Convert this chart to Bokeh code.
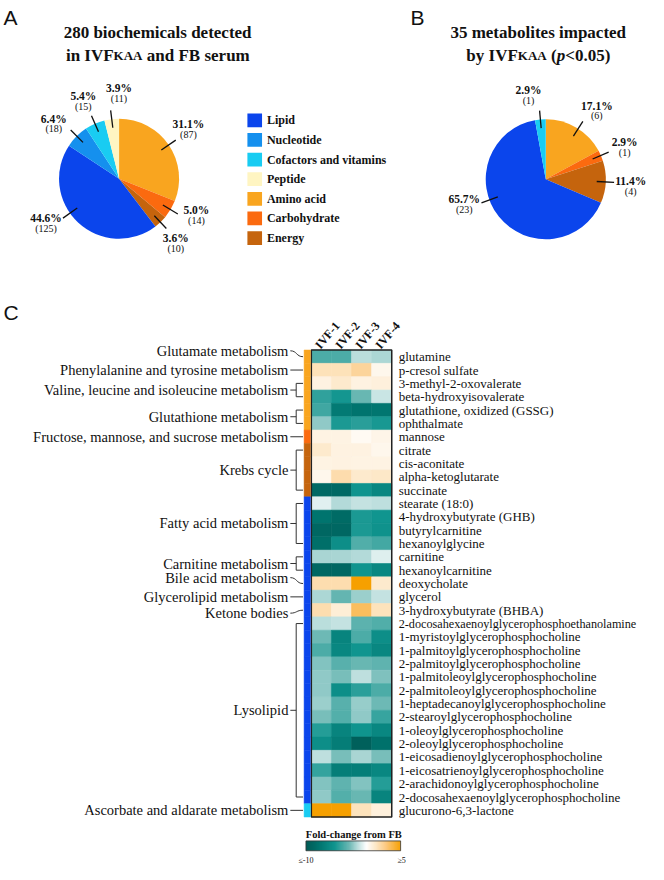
import math
import numpy as np
from bokeh.plotting import figure
from bokeh.models import Range1d, LinearColorMapper, ColumnDataSource
from bokeh.core.properties import value
from bokeh.embed import file_html
from bokeh.resources import INLINE

# ------------------------------------------------------------------ data
classes = ["Lipid", "Nucleotide", "Cofactors and vitamins", "Peptide",
           "Amino acid", "Carbohydrate", "Energy"]
class_colors = ["#0b45ec", "#1590ee", "#19ccf2", "#fff5c2",
                "#f9a51f", "#fb6a0f", "#c5640d"]
counts_detected = [125, 18, 15, 11, 87, 14, 10]
counts_impacted = [23, 0, 1, 0, 6, 1, 4]

samples = ["IVF-1", "IVF-2", "IVF-3", "IVF-4"]
metabolites = [
    "glutamine", "p-cresol sulfate", "3-methyl-2-oxovalerate",
    "beta-hydroxyisovalerate", "glutathione, oxidized (GSSG)", "ophthalmate",
    "mannose", "citrate", "cis-aconitate", "alpha-ketoglutarate", "succinate",
    "stearate (18:0)", "4-hydroxybutyrate (GHB)", "butyrylcarnitine",
    "hexanoylglycine", "carnitine", "hexanoylcarnitine", "deoxycholate",
    "glycerol", "3-hydroxybutyrate (BHBA)",
    "2-docosahexaenoylglycerophosphoethanolamine",
    "1-myristoylglycerophosphocholine", "1-palmitoylglycerophosphocholine",
    "2-palmitoylglycerophosphocholine", "1-palmitoleoylglycerophosphocholine",
    "2-palmitoleoylglycerophosphocholine",
    "1-heptadecanoylglycerophosphocholine", "2-stearoylglycerophosphocholine",
    "1-oleoylglycerophosphocholine", "2-oleoylglycerophosphocholine",
    "1-eicosadienoylglycerophosphocholine",
    "1-eicosatrienoylglycerophosphocholine",
    "2-arachidonoylglycerophosphocholine",
    "2-docosahexaenoylglycerophosphocholine", "glucurono-6,3-lactone"]
metabolite_class = (["Amino acid"] * 6 + ["Carbohydrate"] + ["Energy"] * 4 +
                    ["Lipid"] * 23 + ["Cofactors and vitamins"])
pathways = ["Glutamate metabolism", "Phenylalanine and tyrosine metabolism",
            "Valine, leucine and isoleucine metabolism", "Glutathione metabolism",
            "Fructose, mannose, and sucrose metabolism", "Krebs cycle",
            "Fatty acid metabolism", "Carnitine metabolism",
            "Bile acid metabolism", "Glycerolipid metabolism", "Ketone bodies",
            "Lysolipid", "Ascorbate and aldarate metabolism"]
pathway_sizes = [1, 1, 2, 2, 1, 4, 4, 2, 1, 1, 1, 14, 1]
fold_change = [
    [-4.0, -4.0, -1.9, -2.1],
    [1.3, 1.3, 2.0, 0.0],
    [0.3, 0.8, 0.3, 0.4],
    [-4.7, -5.4, -3.3, -1.6],
    [-4.3, -7.5, -8.0, -7.8],
    [-2.6, -5.2, -4.9, -5.3],
    [0.2, 0.2, -0.2, 0.1],
    [0.8, 0.3, 0.3, 0.0],
    [0.2, 0.3, 0.2, 0.2],
    [0.0, 1.6, 0.8, 0.9],
    [-8.8, -8.8, -5.6, -6.5],
    [-1.1, -2.0, -1.7, -1.8],
    [-8.0, -8.7, -5.2, -5.5],
    [-9.0, -9.0, -5.2, -5.7],
    [-8.4, -6.0, -3.9, -4.2],
    [-2.2, -2.2, -2.0, -1.2],
    [-9.0, -9.0, -5.6, -6.6],
    [1.5, 1.5, 5.0, 0.8],
    [-2.1, -3.4, -2.4, -1.7],
    [1.5, 0.6, 3.2, 1.2],
    [-1.9, -1.7, -3.6, -3.9],
    [-3.2, -6.8, -4.0, -6.0],
    [-4.0, -6.5, -5.5, -6.6],
    [-2.8, -3.7, -3.3, -3.5],
    [-2.6, -3.0, -1.8, -2.9],
    [-2.6, -6.0, -4.8, -4.0],
    [-2.4, -3.7, -2.5, -3.2],
    [-3.0, -3.8, -2.6, -4.5],
    [-5.0, -6.8, -5.6, -6.5],
    [-6.0, -7.3, -9.5, -8.2],
    [-1.8, -3.0, -2.2, -3.0],
    [-4.6, -7.2, -7.2, -6.5],
    [-2.8, -3.5, -2.8, -5.0],
    [-2.6, -3.8, -3.3, -6.8],
    [5.0, 5.0, 1.2, 0.4],
]
scale_low, scale_high = -10, 5
scale_labels = ["\u2264-10", "\u22655"]

# ------------------------------------------------------------------ styling
W_REF, H_REF = 664, 880


def Y(y):
    return H_REF - y


SERIF = value("Liberation Serif")
SANS = value("Liberation Sans")

stops = [(-10, "#005a55"), (-8, "#00746e"), (-5.5, "#10958f"), (-3.2, "#6cb8b4"),
         (-1.8, "#bfe0df"), (-0.5, "#ffffff"), (1.0, "#fde7c6"), (2.5, "#fccb85"),
         (5.0, "#f6a000")]


def hex2rgb(h):
    return [int(h[i:i + 2], 16) for i in (1, 3, 5)]


palette = []
for k in range(256):
    v = scale_low + (scale_high - scale_low) * k / 255
    for (v0, c0), (v1, c1) in zip(stops[:-1], stops[1:]):
        if v0 <= v <= v1:
            t = (v - v0) / (v1 - v0)
            a, b = hex2rgb(c0), hex2rgb(c1)
            palette.append("#%02x%02x%02x" % tuple(round(a[i] + (b[i] - a[i]) * t) for i in range(3)))
            break
mapper = LinearColorMapper(palette=palette, low=scale_low, high=scale_high)
color_of = dict(zip(classes, class_colors))

p = figure(width=648, height=864, x_range=Range1d(0, W_REF), y_range=Range1d(0, H_REF),
           x_axis_location=None, y_axis_location=None, toolbar_location=None,
           output_backend="svg", min_border=0, outline_line_color=None)
p.grid.visible = False


def txt(x, y, s, size, bold=False, italic=False, align="left", baseline="middle",
        angle=0.0, font=SERIF, color="#111111"):
    style = ("bold italic" if bold and italic else "bold" if bold
             else "italic" if italic else "normal")
    p.text(x=[x], y=[Y(y)], text=[s], text_font=font, text_font_size=f"{size}px",
           text_font_style=style, text_align=align, text_baseline=baseline,
           angle=angle, text_color=color)


# ------------------------------------------------------------------ panel letters
txt(3, 6, "A", 21, font=SANS, baseline="top")
txt(420, 6, "B", 21, font=SANS, baseline="top")
txt(3, 306, "C", 21, font=SANS, baseline="top")

# ------------------------------------------------------------------ titles
txt(161, 33, f"{sum(counts_detected)} biochemicals detected", 17, bold=True, align="center")
BL = 56.5
xa = 115.9
txt(xa, BL, "in IVF", 17, bold=True, align="right", baseline="alphabetic")
txt(xa, BL, "KAA", 13, bold=True, baseline="alphabetic")
txt(xa + 34.0, BL, "and FB serum", 17, bold=True, baseline="alphabetic")

txt(551, 33, f"{sum(counts_impacted)} metabolites impacted", 17, bold=True, align="center")
xb = 530.1
txt(xb, BL, "by IVF", 17, bold=True, align="right", baseline="alphabetic")
txt(xb, BL, "KAA", 13, bold=True, baseline="alphabetic")
txt(xb + 34.0, BL, "(", 17, bold=True, baseline="alphabetic")
txt(xb + 39.9, BL, "p", 17, bold=True, italic=True, baseline="alphabetic")
txt(xb + 48.6, BL, "<0.05)", 17, bold=True, baseline="alphabetic")


# ------------------------------------------------------------------ pies
def draw_pie(cx, cy, r, counts, lead_nudge, label_nudge):
    n = len(classes)
    s0 = classes.index("Amino acid")
    order = [(s0 + k) % n for k in range(n)]
    total = sum(counts)
    cum = 0.0
    src = dict(x=[], y=[], start=[], end=[], color=[])
    lx_, ly_ = [], []
    for i in order:
        c = counts[i]
        if c == 0:
            continue
        f0 = cum / total
        cum += c
        f1 = cum / total
        src["x"].append(cx)
        src["y"].append(Y(cy))
        src["start"].append(math.pi / 2 - 2 * math.pi * f1)
        src["end"].append(math.pi / 2 - 2 * math.pi * f0)
        src["color"].append(class_colors[i])
        mid = 180.0 * (f0 + f1)
        la = math.radians(mid + lead_nudge.get(classes[i], 0))
        ta = math.radians(mid + label_nudge.get(classes[i], 0))
        lx_.append([cx + 0.85 * r * math.sin(la), cx + 1.14 * r * math.sin(la)])
        ly_.append([Y(cy - 0.85 * r * math.cos(la)), Y(cy - 1.14 * r * math.cos(la))])
        D = 1.42 * r
        tx = cx + D * math.sin(ta)
        ty = cy - D * math.cos(ta)
        txt(tx, ty - 5, f"{100 * c / total:.1f}%", 11.5, bold=True, align="center")
        txt(tx, ty + 5.5, f"({c})", 10, align="center")
    p.wedge(x="x", y="y", radius=r, start_angle="start", end_angle="end",
            fill_color="color", line_color=None, source=ColumnDataSource(src))
    p.multi_line(lx_, ly_, line_color="#111111", line_width=1.3)


draw_pie(121.5, 181.5, 61.5, counts_detected,
         {"Lipid": 12},
         {"Amino acid": -1.5, "Carbohydrate": -6, "Energy": 2, "Lipid": 16,
          "Nucleotide": -5, "Cofactors and vitamins": -1, "Peptide": 7})
draw_pie(558.7, 182, 61.5, counts_impacted,
         {"Lipid": 18.5, "Amino acid": 2},
         {"Amino acid": 6, "Carbohydrate": 1, "Energy": 2, "Lipid": 21.5,
          "Cofactors and vitamins": -6.5})

# legend
for k, (name, col) in enumerate(zip(classes, class_colors)):
    yy = 122 + 20 * k
    p.rect(x=[260.5], y=[Y(yy)], width=15, height=14, fill_color=col, line_color=None)
    txt(273, yy, name, 12, bold=True)

# ------------------------------------------------------------------ heatmap
top, ch = 356.0, 13.59
left, cw = 318.5, 20.6
nrow, ncol = len(metabolites), len(samples)
hx, hy, hv = [], [], []
for i, row in enumerate(fold_change):
    for j, v in enumerate(row):
        hx.append(left + (j + 0.5) * cw)
        hy.append(Y(top + (i + 0.5) * ch))
        hv.append(v)
p.rect(x="x", y="y", width=cw, height=ch,
       fill_color={"field": "v", "transform": mapper},
       line_color={"field": "v", "transform": mapper}, line_width=0.6,
       source=ColumnDataSource(dict(x=hx, y=hy, v=hv)))
p.rect(x=[left + ncol * cw / 2], y=[Y(top + nrow * ch / 2)], width=ncol * cw,
       height=nrow * ch, fill_color=None, line_color="#222222", line_width=1.5)

# class strip
p.rect(x=[314.3] * nrow, y=[Y(top + (i + 0.5) * ch) for i in range(nrow)],
       width=6.4, height=ch, fill_color=[color_of[c] for c in metabolite_class],
       line_color=[color_of[c] for c in metabolite_class], line_width=0.5)

# row labels
for i, name in enumerate(metabolites):
    size = 12.2 if len(name) > 40 else 13
    txt(408, top + (i + 0.5) * ch, name, size)

# column labels
for j, s in enumerate(samples):
    txt(left + (j + 0.5) * cw - 4, 353, s, 12, bold=True, baseline="alphabetic",
        angle=math.radians(50))

# pathways with brackets
label_shift = {"Glutamate metabolism": -6, "Bile acid metabolism": -6,
               "Ketone bodies": 3}
mlx, mly = [], []
r0 = 0
for name, n in zip(pathways, pathway_sizes):
    y_first = top + (r0 + 0.5) * ch
    y_last = top + (r0 + n - 0.5) * ch
    mid = (y_first + y_last) / 2
    ly = mid + label_shift.get(name, 0)
    txt(295, ly, name, 14.5, align="right")
    if n == 1:
        if name in label_shift:
            p.bezier(x0=[297], y0=[Y(ly)], x1=[310], y1=[Y(mid)], cx0=[304], cy0=[Y(ly)],
                     cx1=[303], cy1=[Y(mid)], line_color="#333333", line_width=1)
        else:
            mlx.append([297, 310]); mly.append([Y(ly), Y(ly)])
    else:
        mlx.append([297, 303]); mly.append([Y(ly), Y(ly)])
        mlx.append([310, 303, 303, 310])
        mly.append([Y(y_first), Y(y_first), Y(y_last), Y(y_last)])
    r0 += n
p.multi_line(mlx, mly, line_color="#333333", line_width=1)

# colour scale
grad = np.linspace(scale_low, scale_high, 256).reshape(1, -1)
p.image(image=[grad], x=313, y=Y(866), dw=97, dh=10, color_mapper=mapper)
p.rect(x=[313 + 97 / 2], y=[Y(861)], width=97, height=10, fill_color=None,
       line_color="#333333", line_width=0.8)
txt(362, 849, "Fold-change from FB", 10.5, bold=True, align="center")
txt(313, 876, scale_labels[0], 8, align="center")
txt(411, 876, scale_labels[1], 8, align="center")

open("out.html", "w").write(file_html(p, INLINE))
